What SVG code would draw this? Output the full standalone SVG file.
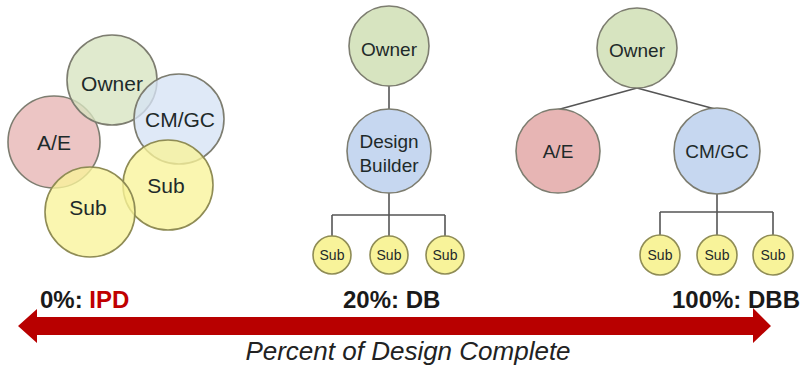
<svg xmlns="http://www.w3.org/2000/svg" width="806" height="369" viewBox="0 0 806 369">
<style>
  .n { stroke: #7d7d70; stroke-width: 1.6; }
  .own { fill: #d7e4c0; }
  .ae { fill: #e7b5b4; }
  .cm { fill: #c6d7f0; }
  .sub { fill: #f8f39a; stroke: #8f8c55; }
  .lc { fill-opacity: 0.78; }
  .t { font-family: "Liberation Sans", Arial, sans-serif; fill: #1e2a2a; text-anchor: middle; }
  .big { font-size: 21px; }
  .med { font-size: 19px; }
  .sm { font-size: 14px; }
  .lbl { font-family: "Liberation Sans", Arial, sans-serif; font-weight: bold; font-size: 24px; fill: #1a1a1a; }
  .conn line { stroke: #555; stroke-width: 1.6; fill: none; }
</style>

<!-- Left cluster (IPD) -->
<g id="ipd-ae"><circle class="n ae lc" cx="54" cy="142" r="46"/><text class="t big" x="54" y="150">A/E</text></g>
<g id="ipd-owner"><circle class="n own lc" cx="112" cy="80" r="45"/><text class="t big" x="112" y="91">Owner</text></g>
<g id="ipd-cmgc"><circle class="n cm lc" cx="179" cy="119" r="45" style="fill:#d6e3f5"/><text class="t big" x="180" y="127">CM/GC</text></g>
<g id="ipd-sub2"><circle class="n sub lc" cx="168" cy="185" r="45"/><text class="t big" x="166" y="193">Sub</text></g>
<g id="ipd-sub1"><circle class="n sub lc" cx="90" cy="212" r="45"/><text class="t big" x="88" y="215">Sub</text></g>

<!-- Connectors -->
<g id="connectors" class="conn">
  <line x1="389" y1="86" x2="389" y2="109"/>
  <line x1="389" y1="193" x2="389" y2="215"/>
  <line x1="332" y1="215" x2="445" y2="215"/>
  <line x1="332" y1="215" x2="332" y2="236"/>
  <line x1="389" y1="215" x2="389" y2="236"/>
  <line x1="445" y1="215" x2="445" y2="236"/>
  <line x1="637" y1="88" x2="553" y2="111"/>
  <line x1="637" y1="88" x2="715" y2="109"/>
  <line x1="717" y1="194" x2="717" y2="212"/>
  <line x1="660" y1="212" x2="773" y2="212"/>
  <line x1="660" y1="212" x2="660" y2="235"/>
  <line x1="717" y1="212" x2="717" y2="235"/>
  <line x1="773" y1="212" x2="773" y2="235"/>
</g>

<!-- Middle (DB) -->
<g id="db-owner"><circle class="n own" cx="389" cy="46" r="40"/><text class="t med" x="389" y="56">Owner</text></g>
<g id="db-builder"><circle class="n cm" cx="389" cy="151" r="42"/><text class="t med" x="389" y="148">Design</text><text class="t med" x="389" y="172">Builder</text></g>
<g id="db-sub1"><circle class="n sub" cx="332" cy="255" r="19"/><text class="t sm" x="332" y="260">Sub</text></g>
<g id="db-sub2"><circle class="n sub" cx="389" cy="255" r="19"/><text class="t sm" x="389" y="260">Sub</text></g>
<g id="db-sub3"><circle class="n sub" cx="445" cy="255" r="19"/><text class="t sm" x="445" y="260">Sub</text></g>

<!-- Right (DBB) -->
<g id="dbb-owner"><circle class="n own" cx="637" cy="48" r="40"/><text class="t med" x="637" y="57">Owner</text></g>
<g id="dbb-ae"><circle class="n ae" cx="558" cy="151" r="42"/><text class="t med" x="558" y="158">A/E</text></g>
<g id="dbb-cmgc"><circle class="n cm" cx="717" cy="151" r="43"/><text class="t med" x="717" y="158">CM/GC</text></g>
<g id="dbb-sub1"><circle class="n sub" cx="660" cy="255" r="20"/><text class="t sm" x="660" y="260">Sub</text></g>
<g id="dbb-sub2"><circle class="n sub" cx="717" cy="255" r="20"/><text class="t sm" x="717" y="260">Sub</text></g>
<g id="dbb-sub3"><circle class="n sub" cx="773" cy="255" r="20"/><text class="t sm" x="773" y="260">Sub</text></g>

<!-- Scale arrow -->
<g id="scale">
  <polygon points="18,326 37,309 37,317 753,317 753,308 771,326 753,343 753,335 37,335 37,343" fill="#b80000"/>
  <text class="lbl" x="40" y="308">0%: <tspan fill="#c00000">IPD</tspan></text>
  <text class="lbl" x="343" y="308">20%: DB</text>
  <text class="lbl" x="800" y="308" text-anchor="end">100%: DBB</text>
  <text x="408" y="360" text-anchor="middle" font-family="'Liberation Sans', Arial, sans-serif" font-style="italic" font-size="26" fill="#222">Percent of Design Complete</text>
</g>
</svg>
